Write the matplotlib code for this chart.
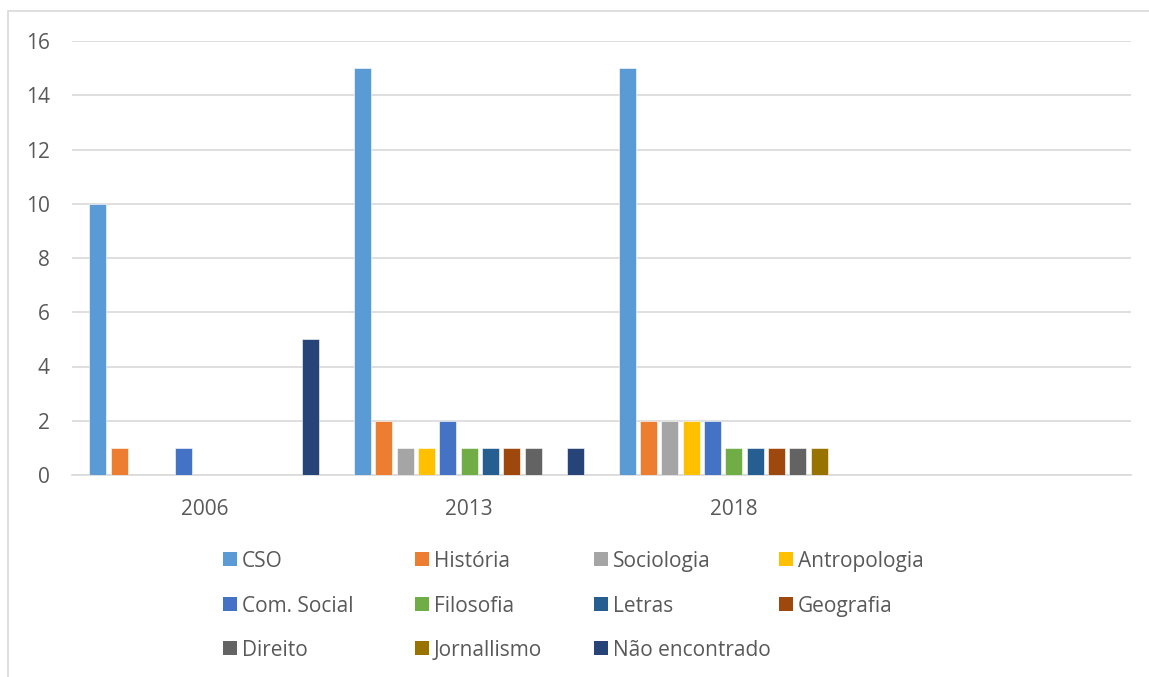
import numpy as np
import matplotlib.pyplot as plt
from matplotlib.patches import Rectangle

plt.rcParams['font.family'] = ['Open Sans', 'DejaVu Sans']

anos = ["2006", "2013", "2018", ""]
areas = ["CSO", "História", "Sociologia", "Antropologia", "Com. Social", "Filosofia",
         "Letras", "Geografia", "Direito", "Jornallismo", "Não encontrado"]
cores = ["#5B9BD5", "#ED7D31", "#A5A5A5", "#FFC000", "#4472C4", "#70AD47",
         "#255E91", "#9E480E", "#636363", "#997300", "#264478"]

# contagens por área (2006, 2013, 2018, vazio)
cso = [10, 15, 15, 0]
historia = [1, 2, 2, 0]
sociologia = [0, 1, 2, 0]
antropologia = [0, 1, 2, 0]
com_social = [1, 2, 2, 0]
filosofia = [0, 1, 1, 0]
letras = [0, 1, 1, 0]
geografia = [0, 1, 1, 0]
direito = [0, 1, 1, 0]
jornalismo = [0, 0, 1, 0]
nao_encontrado = [5, 1, 0, 0]

series = [cso, historia, sociologia, antropologia, com_social, filosofia,
          letras, geografia, direito, jornalismo, nao_encontrado]

W, H = 1149, 677
fig = plt.figure(figsize=(W / 100, H / 100), dpi=100)
ax = fig.add_axes([72 / W, (H - 475) / H, (1131 - 72) / W, (475 - 41) / H])

texto = "#595959"
grade = "#D9D9D9"
fs = 15

x = np.arange(len(anos))
passo = 0.0805
largura = 0.0645
for j, (vals, cor) in enumerate(zip(series, cores)):
    ax.bar(x + (j - 5) * passo, vals, width=largura, color=cor,
           edgecolor="white", linewidth=0.4, zorder=3)

ax.set_xlim(-0.5, len(anos) - 0.5)
ax.set_ylim(0, 16)
ax.set_yticks(range(0, 17, 2))
ax.set_xticks(x)
ax.set_xticklabels(anos)
ax.grid(axis="y", color=grade, linewidth=1.2, zorder=0)
for s in ["top", "right", "left"]:
    ax.spines[s].set_visible(False)
ax.spines["bottom"].set_color(grade)
ax.spines["bottom"].set_linewidth(1.2)
ax.tick_params(axis="both", length=0, labelsize=fs, labelcolor=texto)
ax.tick_params(axis="y", pad=16)
ax.tick_params(axis="x", pad=17)

# legenda em linhas de 4
col_x = [223, 415, 594, 779]
lin_y = [559, 604, 648]
for k, (nome, cor) in enumerate(zip(areas, cores)):
    lx = col_x[k % 4]
    ly = lin_y[k // 4]
    fig.patches.append(Rectangle((lx / W, (H - ly - 7) / H), 14 / W, 14 / H,
                                 transform=fig.transFigure, facecolor=cor,
                                 edgecolor="none"))
    fig.text((lx + 19) / W, (H - ly - 2.5) / H, nome, fontsize=fs, color=texto,
             va="center", ha="left")

# moldura da área do gráfico
fig.patches.append(Rectangle((8 / W, -0.1), 1.2, (H - 11) / H + 0.1,
                             transform=fig.transFigure, facecolor="none",
                             edgecolor=grade, linewidth=1.2))

fig.savefig("out.png", dpi=100)
